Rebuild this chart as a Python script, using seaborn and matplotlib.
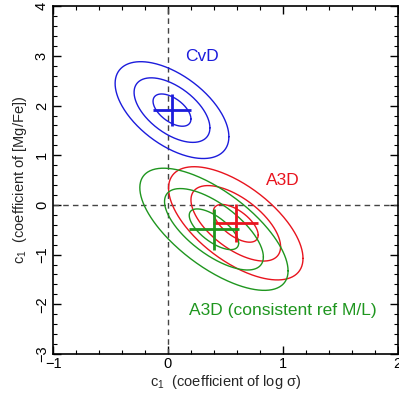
import numpy as np
import pandas as pd
import matplotlib
matplotlib.use("Agg")
import matplotlib.pyplot as plt
from matplotlib.ticker import MultipleLocator
import seaborn as sns

# ---- data ----
models = ["CvD", "A3D", "A3D (consistent ref M/L)"]
center_x = [0.035, 0.59, 0.40]
center_y = [1.91, -0.37, -0.49]
sigma_x = [0.165, 0.195, 0.215]
sigma_y = [0.325, 0.38, 0.41]
rho = [-0.55, -0.62, -0.68]
levels = [1, 2, 3]
colors = ["#1c1cdc", "#e8141e", "#1f961f"]
label_x = [0.30, 1.00, 1.00]
label_y = [2.98, 0.50, -2.12]
x_ticks = [-1, 0, 1, 2]
x_tick_labels = ["\u22121", "0", "1", "2"]
y_ticks = [-3, -2, -1, 0, 1, 2, 3, 4]
y_tick_labels = ["\u22123", "\u22122", "\u22121", "0", "1", "2", "3", "4"]

sns.set_style("ticks")
plt.rcParams["font.family"] = ["Liberation Sans", "DejaVu Sans"]
plt.rcParams["mathtext.fontset"] = "custom"
plt.rcParams["mathtext.rm"] = "Liberation Sans"
plt.rcParams["mathtext.it"] = "Liberation Sans"

fig = plt.figure(figsize=(3.99, 3.95), dpi=100)
ax = fig.add_axes([0.133, 0.104, 0.864, 0.88])

t = np.linspace(0, 2 * np.pi, 300)
rows = []
for i, m in enumerate(models):
    cov = np.array([[sigma_x[i] ** 2, rho[i] * sigma_x[i] * sigma_y[i]],
                    [rho[i] * sigma_x[i] * sigma_y[i], sigma_y[i] ** 2]])
    L = np.linalg.cholesky(cov)
    circ = np.vstack([np.cos(t), np.sin(t)])
    for k in levels:
        pts = k * (L @ circ)
        rows.append(pd.DataFrame({"x": center_x[i] + pts[0],
                                  "y": center_y[i] + pts[1],
                                  "model": m, "level": k}))
df = pd.concat(rows, ignore_index=True)

ax.axvline(0, color="#444444", ls=(0, (4, 3)), lw=1.0, zorder=1)
ax.axhline(0, color="#444444", ls=(0, (4, 3)), lw=1.0, zorder=1)

for i, m in enumerate(models):
    for k in levels:
        sub = df[(df.model == m) & (df.level == k)]
        sns.lineplot(data=sub, x="x", y="y", sort=False, estimator=None,
                     color=colors[i], lw=1.0, ax=ax)
    ax.errorbar(center_x[i], center_y[i], xerr=sigma_x[i], yerr=sigma_y[i],
                color=colors[i], lw=2.0, capsize=0, fmt="none", zorder=3)
    ax.text(label_x[i], label_y[i], m, color=colors[i], fontsize=12.5,
            ha="center", va="center")

ax.set_xlim(-1, 2)
ax.set_ylim(-3, 4)
ax.set_xticks(x_ticks)
ax.set_xticklabels(x_tick_labels)
ax.set_yticks(y_ticks)
ax.set_yticklabels(y_tick_labels, rotation=90, va="center")
ax.xaxis.set_minor_locator(MultipleLocator(0.2))
ax.yaxis.set_minor_locator(MultipleLocator(0.2))
ax.tick_params(which="both", direction="in", top=True, right=True,
               labelsize=10.5, colors="black")
ax.tick_params(which="major", length=6, width=1)
ax.tick_params(which="minor", length=3, width=0.8)
ax.tick_params(axis="x", which="major", pad=2)
ax.tick_params(axis="y", which="major", pad=3)
for s in ax.spines.values():
    s.set_linewidth(1.2)
    s.set_color("black")

ax.set_xlabel("c$_1$  (coefficient of log \u03c3)", fontsize=10.5, labelpad=2)
ax.set_ylabel("c$_1$  (coefficient of [Mg/Fe])", fontsize=10.5, labelpad=4)
ax.set_title("")

fig.savefig("out.png", dpi=100)
